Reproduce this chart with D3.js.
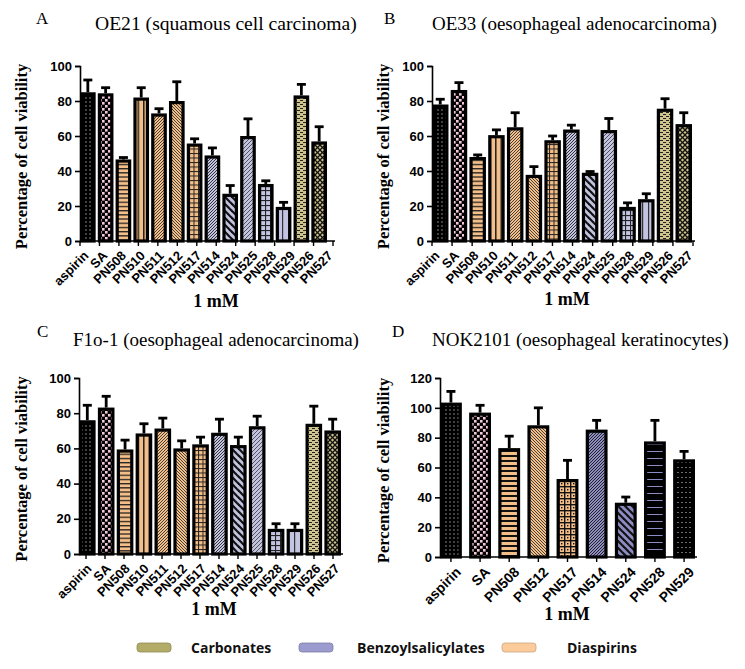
<!DOCTYPE html>
<html><head><meta charset="utf-8">
<script src="https://cdnjs.cloudflare.com/ajax/libs/d3/7.8.5/d3.min.js"></script>
<style>body{margin:0;background:#fff}svg{display:block}</style>
</head><body>
<script>
// ---- data ----
const cats = ["aspirin","SA","PN508","PN510","PN511","PN512","PN517","PN514","PN524","PN525","PN528","PN529","PN526","PN527"];
const oe21 = [85,84.4,46.6,82,72.9,80,55.7,48.9,27,60,32.6,19.5,83.2,56.9];
const oe21Err = [7,3.2,1.1,5.6,2.7,11,2.7,4.3,4.7,9.8,1.8,2.6,6.3,8.4];
const oe33 = [78,86.3,48,60.5,65,37.8,57.6,63.7,39,63.4,19.5,23.9,75.6,66.8];
const oe33Err = [3,4.2,1.2,3,8.3,4.7,2.4,2.5,0.7,6.6,2.3,3.1,5.7,6.5];
const f1o = [76,83.2,59.4,68.5,71.3,60,62.3,68.9,61.9,72.6,14.3,14.3,74,70.2];
const f1oErr = [8.5,6.4,5.3,5.5,5.9,4.3,4.1,7.7,4.5,5.7,2.9,2.9,10,6.4];
const catsD = ["aspirin","SA","PN508","PN512","PN517","PN514","PN524","PN528","PN529"];
const nok = [103.5,96.8,73,88.3,52.3,85.4,36.4,77.5,65.5];
const nokErr = [7.5,4.9,8,11.7,12.5,6.2,3.8,14.1,5.3];
const ticks100 = [0,20,40,60,80,100];
const ticks120 = [0,20,40,60,80,100,120];
const legendNames = ["Carbonates","Benzoylsalicylates","Diaspirins"];
const legendColors = ["#b3ab68","#9b9bcf","#fbcb9c"];

const OR = "#f3be88", PU = "#c3c3e2", PUD = "#8d8dc4", KH = "#cfc48e";

const svg = d3.select("body").append("svg").attr("width",745).attr("height",669);
const defs = svg.append("defs");

function pat(id, w, h, bg, draw){
  const p = defs.append("pattern").attr("id",id).attr("patternUnits","userSpaceOnUse")
    .attr("width",w).attr("height",h);
  p.append("rect").attr("width",w).attr("height",h).attr("fill",bg);
  draw(p);
}
function lines(p, segs, col, sw){
  segs.forEach(s=>p.append("line").attr("x1",s[0]).attr("y1",s[1]).attr("x2",s[2]).attr("y2",s[3])
    .attr("stroke",col).attr("stroke-width",sw));
}
pat("p_dots",4,4,"#000",p=>p.append("rect").attr("x",1.5).attr("y",1.5).attr("width",1).attr("height",1).attr("fill","#fff"));
pat("p_dots2",4,5,"#000",p=>p.append("rect").attr("x",1.5).attr("y",2).attr("width",1).attr("height",1).attr("fill","#ddd"));
pat("p_pink",6,6,"#000",p=>{p.append("rect").attr("x",0).attr("y",0).attr("width",2.6).attr("height",2.6).attr("fill","#f3c9db");
  p.append("rect").attr("x",3).attr("y",3).attr("width",2.6).attr("height",2.6).attr("fill","#f3c9db");});
pat("p_oh",6,4.2,OR,p=>p.append("rect").attr("x",0).attr("y",0).attr("width",6).attr("height",1.3).attr("fill","#222"));
pat("p_ohD",6,5,OR,p=>p.append("rect").attr("x",0).attr("y",0).attr("width",6).attr("height",2).attr("fill","#111"));
pat("p_ov",5.5,6,OR,p=>p.append("rect").attr("x",0).attr("y",0).attr("width",1.5).attr("height",6).attr("fill","#222"));
pat("p_or",3,3,OR,p=>lines(p,[[0,3,3,0],[-1,1,1,-1],[2,4,4,2]],"#333",0.9));
pat("p_ol",3,3,OR,p=>lines(p,[[0,0,3,3],[-1,2,1,4],[2,-1,4,1]],"#333",0.9));
pat("p_og",4.5,4.5,OR,p=>{p.append("rect").attr("width",4.5).attr("height",1).attr("fill","#222");p.append("rect").attr("width",1).attr("height",4.5).attr("fill","#222");});
pat("p_ochk",6,6,OR,p=>{p.append("rect").attr("width",6).attr("height",1.4).attr("fill","#111");p.append("rect").attr("width",1.4).attr("height",6).attr("fill","#111");
  p.append("rect").attr("x",3).attr("y",3).attr("width",1.4).attr("height",1.4).attr("fill","#111");});
pat("p_pr",3,3,PU,p=>lines(p,[[0,3,3,0],[-1,1,1,-1],[2,4,4,2]],"#333",1));
pat("p_pl",7,7,PU,p=>lines(p,[[0,0,7,7],[-1,6,1,8],[6,-1,8,1]],"#111",2.2));
pat("p_pr2",4,4,PU,p=>lines(p,[[0,4,4,0],[-1,1,1,-1],[3,5,5,3]],"#444",0.9));
pat("p_pg",5,5,PU,p=>{p.append("rect").attr("width",5).attr("height",1.1).attr("fill","#222");p.append("rect").attr("width",1.1).attr("height",5).attr("fill","#222");});
pat("p_pv",6,6,PU,p=>p.append("rect").attr("x",0).attr("width",1.2).attr("height",6).attr("fill","#333"));
pat("p_prD",3,3,PUD,p=>lines(p,[[0,3,3,0],[-1,1,1,-1],[2,4,4,2]],"#222",1));
pat("p_plD",7,7,PUD,p=>lines(p,[[0,0,7,7],[-1,6,1,8],[6,-1,8,1]],"#111",2.2));
pat("p_blkl",8,7,"#000",p=>p.append("rect").attr("x",0).attr("y",3).attr("width",8).attr("height",1).attr("fill","#8d8dc4"));
pat("p_kd",6,4,KH,p=>{p.append("rect").attr("x",0).attr("y",0).attr("width",3).attr("height",1).attr("fill","#222");
  p.append("rect").attr("x",3).attr("y",2).attr("width",3).attr("height",1).attr("fill","#222");});
pat("p_kx",5,5,KH,p=>lines(p,[[0,0,5,5],[0,5,5,0],[-1,4,1,6],[4,-1,6,1],[-1,1,1,-1],[4,6,6,4]],"#111",1.3));

const patABC = {aspirin:"p_dots",SA:"p_pink",PN508:"p_oh",PN510:"p_ov",PN511:"p_or",PN512:"p_ol",PN517:"p_og",
  PN514:"p_pr",PN524:"p_pl",PN525:"p_pr2",PN528:"p_pg",PN529:"p_pv",PN526:"p_kd",PN527:"p_kx"};
const patD = {aspirin:"p_dots",SA:"p_pink",PN508:"p_ohD",PN512:"p_ol",PN517:"p_ochk",PN514:"p_prD",PN524:"p_plD",PN528:"p_blkl",PN529:"p_dots2"};

const SERIF = "Liberation Serif, Times New Roman, serif";
const SANS = "Liberation Sans, Arial, sans-serif";

function panel(o){
  const g = svg.append("g");
  const x = d3.scaleBand().domain(o.cats).range([o.x0,o.x1b]).paddingInner(o.pad).paddingOuter(0);
  const y = d3.scaleLinear().domain([0,o.ymax]).range([o.y0,o.y1]);
  // tick / label positions (evenly spaced like the source software)
  const tp = o.tickRange ? d3.scalePoint().domain(o.cats).range(o.tickRange) : (c=>x(c)+x.bandwidth()/2);
  const lp = o.labelRange ? d3.scalePoint().domain(o.cats).range(o.labelRange) : (c=>x(c)+x.bandwidth()/2+o.lox);
  const sw = 3.2;
  o.cats.forEach((c,i)=>{
    const v=o.vals[i], e=o.errs[i], cx=x(c)+x.bandwidth()/2;
    g.append("line").attr("x1",cx).attr("x2",cx).attr("y1",y(v)).attr("y2",y(v+e)).attr("stroke","#000").attr("stroke-width",2.8);
    g.append("line").attr("x1",cx-4.5).attr("x2",cx+4.5).attr("y1",y(v+e)).attr("y2",y(v+e)).attr("stroke","#000").attr("stroke-width",2.8);
    g.append("rect").attr("x",x(c)+sw/2).attr("y",y(v)+sw/2).attr("width",x.bandwidth()-sw).attr("height",y(0)-y(v)-sw/2)
      .attr("fill","url(#"+o.pats[c]+")").attr("stroke","#000").attr("stroke-width",sw);
  });
  const ya = g.append("g").attr("transform",`translate(${o.x0},0)`)
    .call(d3.axisLeft(y).tickValues(o.ticks).tickSize(5).tickPadding(3));
  ya.select(".domain").attr("stroke-width",1.6);
  ya.selectAll(".tick line").attr("stroke-width",1.6);
  ya.selectAll("text").attr("font-family",SANS).attr("font-weight","bold").attr("font-size",13).attr("fill","#000");
  g.append("line").attr("x1",o.x0).attr("x2",o.x1).attr("y1",o.y0).attr("y2",o.y0).attr("stroke","#000").attr("stroke-width",1.6);
  o.cats.forEach(c=>{
    const tx=tp(c), lxp=lp(c);
    g.append("line").attr("x1",tx).attr("x2",tx).attr("y1",o.y0).attr("y2",o.y0+5).attr("stroke","#000").attr("stroke-width",1.4);
    g.append("text").attr("transform",`translate(${lxp},${o.y0+9}) rotate(-45)`).attr("text-anchor","end")
      .attr("dy","0.7em").attr("font-family",SANS).attr("font-weight","bold").attr("font-size",o.xfs).text(c);
  });
  g.append("text").attr("x",o.lx).attr("y",o.ly).attr("font-family",SERIF).attr("font-size",17).text(o.letter);
  g.append("text").attr("x",o.tx).attr("y",o.ty).attr("font-family",SERIF).attr("font-size",o.tfs).text(o.title);
  g.append("text").attr("transform",`translate(${o.yx},${(o.y0+o.y1)/2+3}) rotate(-90)`).attr("text-anchor","middle")
    .attr("font-family",SERIF).attr("font-weight","bold").attr("font-size",16.5).text("Percentage of cell viability");
  g.append("text").attr("x",o.mx).attr("y",o.my).attr("text-anchor","middle")
    .attr("font-family",SERIF).attr("font-weight","bold").attr("font-size",18).text("1 mM");
}

panel({cats,vals:oe21,errs:oe21Err,pats:patABC,x0:80,x1b:327,x1:335,y0:241,y1:66,ymax:100,ticks:ticks100,pad:0.12,xfs:13,
  tickRange:[80,333],labelRange:[83,327],
  letter:"A",lx:36,ly:24,title:"OE21 (squamous cell carcinoma)",tfs:19.6,tx:95,ty:30,yx:27,mx:216,my:307});
panel({cats,vals:oe33,errs:oe33Err,pats:patABC,x0:432,x1b:692,x1:695,y0:241,y1:66,ymax:100,ticks:ticks100,pad:0.12,xfs:13,
  tickRange:[432,693],labelRange:[434,687],
  letter:"B",lx:384,ly:24,title:"OE33 (oesophageal adenocarcinoma)",tfs:19,tx:432,ty:30,yx:389,mx:567,my:305});
panel({cats,vals:f1o,errs:f1oErr,pats:patABC,x0:79,x1b:341,x1:343,y0:554,y1:378,ymax:100,ticks:ticks100,pad:0.12,xfs:13,
  tickRange:[86,333],labelRange:[86,334],
  letter:"C",lx:37,ly:337,title:"F1o-1 (oesophageal adenocarcinoma)",tfs:19,tx:73,ty:346,yx:27,mx:214,my:615});
panel({cats:catsD,vals:nok,errs:nokErr,pats:patD,x0:440,x1b:695,x1:697,y0:557,y1:378,ymax:120,ticks:ticks120,pad:0.25,xfs:14,lox:4,
  letter:"D",lx:392,ly:337,title:"NOK2101 (oesophageal keratinocytes)",tfs:19,tx:432,ty:346,yx:389,mx:567,my:620});

const lg = svg.append("g");
const lx = [137,299,502], tx=[191,357,567];
legendNames.forEach((n,i)=>{
  lg.append("rect").attr("x",lx[i]).attr("y",643).attr("width",34).attr("height",9).attr("rx",3)
    .attr("fill",legendColors[i]).attr("stroke",d3.color(legendColors[i]).darker(0.6)).attr("stroke-width",0.8);
  lg.append("text").attr("x",tx[i]).attr("y",653).attr("font-family","Open Sans, sans-serif").attr("font-weight","bold")
    .attr("font-size",14).attr("fill","#111").text(n);
});
</script>
</body></html>
